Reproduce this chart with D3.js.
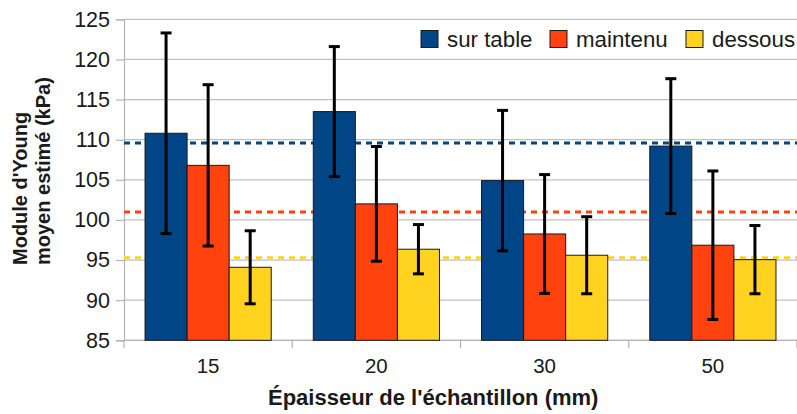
<!DOCTYPE html>
<html>
<head>
<meta charset="utf-8">
<script src="https://cdn.jsdelivr.net/npm/d3@7/dist/d3.min.js"></script>
<style>
  html, body { margin: 0; padding: 0; background: #fff; }
  svg { display: block; font-family: "Liberation Sans", Arial, sans-serif; }
</style>
</head>
<body>
<svg id="chart" width="797" height="414"></svg>
<script>
// Sample thickness (mm)
const categories = ["15", "20", "30", "50"];
const seriesNames = ["sur table", "maintenu", "dessous"];
const seriesColors = ["#004586", "#ff420e", "#ffd320"];

// Mean estimated Young's modulus (kPa) per series
const surTable = [110.8, 113.5, 104.9, 109.2];
const maintenu = [106.8, 102.0, 98.25, 96.85];
const dessous  = [94.1, 96.35, 95.6, 95.05];

// Standard deviations (kPa)
const surTableErr = [12.5, 8.1, 8.75, 8.4];
const maintenuErr = [10.05, 7.15, 7.4, 9.25];
const dessousErr  = [4.55, 3.07, 4.8, 4.25];

const yTicks = [85, 90, 95, 100, 105, 110, 115, 120, 125];

const seriesValues = [surTable, maintenu, dessous];
const seriesErrors = [surTableErr, maintenuErr, dessousErr];

const svg = d3.select("#chart");
const plot = { left: 124, right: 797, top: 19.3, bottom: 340.3 };

const y = d3.scaleLinear().domain([85, 125]).range([plot.bottom, plot.top]);
const x0 = d3.scaleBand().domain(categories).range([plot.left, plot.right]).padding(0);
const x1 = d3.scaleBand().domain(seriesNames).range([0, x0.bandwidth()])
  .paddingInner(0).paddingOuter(0.5);

// Horizontal grid lines
svg.append("g")
  .selectAll("line")
  .data(yTicks)
  .join("line")
  .attr("x1", plot.left).attr("x2", plot.right)
  .attr("y1", d => y(d)).attr("y2", d => y(d))
  .attr("stroke", "#c0c0c0").attr("stroke-width", 1.2);

// Y axis
const yAxis = svg.append("g")
  .attr("transform", `translate(${plot.left},0)`)
  .call(d3.axisLeft(y).tickValues(yTicks).tickSize(8).tickPadding(6));
yAxis.select(".domain").attr("stroke", "#b3b3b3").attr("stroke-width", 1.2);
yAxis.selectAll(".tick line").attr("stroke", "#b3b3b3").attr("stroke-width", 1.2);
yAxis.selectAll(".tick text")
  .attr("font-size", 21.5).attr("fill", "#1a1a1a")
  .attr("font-family", "Liberation Sans, Arial, sans-serif");

// X axis: ticks between categories
const xAxisG = svg.append("g");
xAxisG.append("line")
  .attr("x1", plot.left).attr("x2", plot.right)
  .attr("y1", plot.bottom).attr("y2", plot.bottom)
  .attr("stroke", "#b3b3b3").attr("stroke-width", 1.2);
xAxisG.selectAll("line.sep")
  .data(categories.slice(1).concat(["_end"]))
  .join("line")
  .attr("class", "sep")
  .attr("x1", (d, i) => x0(categories[0]) + (i + 1) * x0.bandwidth())
  .attr("x2", (d, i) => x0(categories[0]) + (i + 1) * x0.bandwidth())
  .attr("y1", plot.bottom).attr("y2", plot.bottom + 8)
  .attr("stroke", "#b3b3b3").attr("stroke-width", 1.2);
xAxisG.append("line")
  .attr("x1", plot.left).attr("x2", plot.left)
  .attr("y1", plot.bottom).attr("y2", plot.bottom + 8)
  .attr("stroke", "#b3b3b3").attr("stroke-width", 1.2);
xAxisG.selectAll("text")
  .data(categories)
  .join("text")
  .attr("x", d => x0(d) + x0.bandwidth() / 2)
  .attr("y", 373)
  .attr("text-anchor", "middle")
  .attr("font-size", 20.5)
  .attr("fill", "#1a1a1a")
  .text(d => d);

// Dashed lines at each series' overall mean (behind the bars)
svg.append("g")
  .selectAll("line")
  .data(seriesValues)
  .join("line")
  .attr("x1", plot.left).attr("x2", plot.right)
  .attr("y1", d => y(d3.mean(d))).attr("y2", d => y(d3.mean(d)))
  .attr("stroke", (d, i) => seriesColors[i])
  .attr("stroke-width", 3)
  .attr("stroke-dasharray", "6,5");

// Bars
const groups = svg.append("g")
  .selectAll("g")
  .data(categories)
  .join("g")
  .attr("transform", d => `translate(${x0(d)},0)`);

groups.selectAll("rect")
  .data((c, ci) => seriesNames.map((s, si) => ({ s, si, v: seriesValues[si][ci] })))
  .join("rect")
  .attr("x", d => x1(d.s))
  .attr("width", x1.bandwidth())
  .attr("y", d => y(d.v))
  .attr("height", d => y(85) - y(d.v))
  .attr("fill", d => seriesColors[d.si])
  .attr("stroke", "#1a1a1a")
  .attr("stroke-width", 1);

// Error bars
const errData = (c, ci) => seriesNames.map((s, si) => ({
  s, v: seriesValues[si][ci], e: seriesErrors[si][ci]
}));
const eb = groups.selectAll("g.err")
  .data(errData)
  .join("g")
  .attr("class", "err")
  .attr("transform", d => `translate(${x1(d.s) + x1.bandwidth() / 2},0)`);
eb.append("line")
  .attr("x1", 0).attr("x2", 0)
  .attr("y1", d => y(d.v + d.e)).attr("y2", d => y(d.v - d.e))
  .attr("stroke", "#000").attr("stroke-width", 3);
eb.selectAll("line.cap")
  .data(d => [d.v + d.e, d.v - d.e])
  .join("line")
  .attr("class", "cap")
  .attr("x1", -5.5).attr("x2", 5.5)
  .attr("y1", d => y(d)).attr("y2", d => y(d))
  .attr("stroke", "#000").attr("stroke-width", 3);

// Legend
const legendX = [421, 550, 686];
const legend = svg.append("g")
  .selectAll("g")
  .data(seriesNames)
  .join("g")
  .attr("transform", (d, i) => `translate(${legendX[i]},30.5)`);
legend.append("rect")
  .attr("width", 17).attr("height", 17)
  .attr("fill", (d, i) => seriesColors[i])
  .attr("stroke", "#1a1a1a").attr("stroke-width", 1);
legend.append("text")
  .attr("x", 26).attr("y", 16)
  .attr("font-size", 22.3)
  .attr("fill", "#1a1a1a")
  .text(d => d);

// Axis titles
svg.append("text")
  .attr("x", 268).attr("y", 405)
  .attr("font-size", 22).attr("font-weight", "bold")
  .attr("fill", "#1a1a1a")
  .text("Épaisseur de l'échantillon (mm)");

const yTitle = svg.append("g")
  .attr("font-size", 20).attr("font-weight", "bold").attr("fill", "#1a1a1a");
yTitle.append("text")
  .attr("transform", "translate(27,265) rotate(-90)")
  .text("Module d'Young");
yTitle.append("text")
  .attr("transform", "translate(50,265) rotate(-90)")
  .text("moyen estimé (kPa)");
</script>
</body>
</html>
